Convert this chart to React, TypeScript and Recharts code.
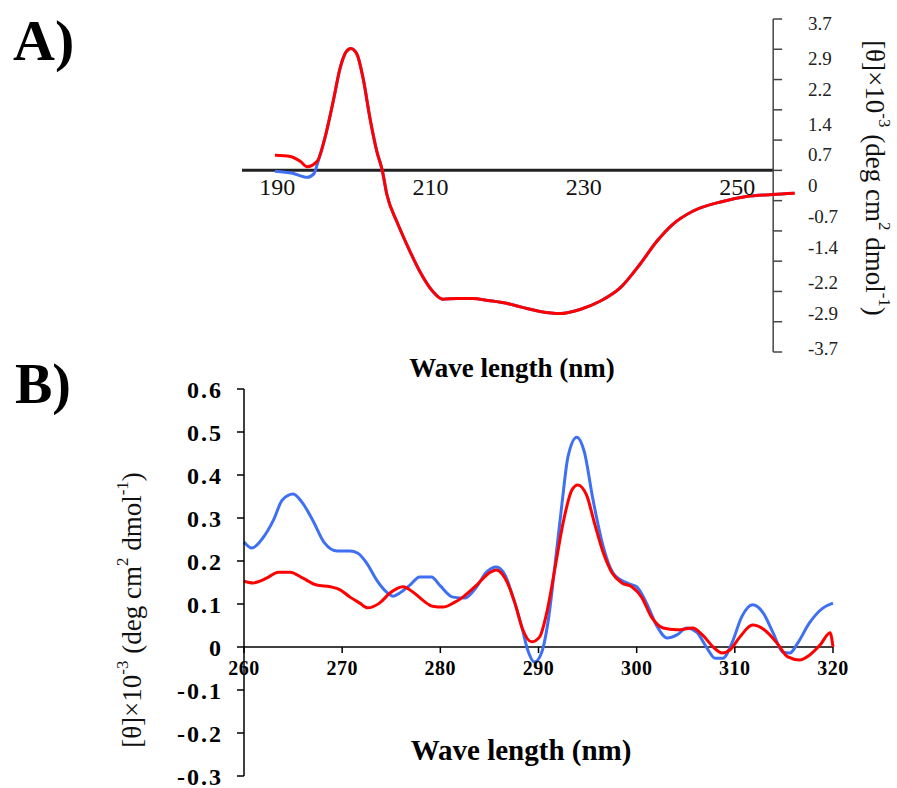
import React from 'react'
import { LineChart, Line, XAxis, YAxis, ReferenceLine } from 'recharts'

const SERIF = '"Liberation Serif", "Times New Roman", serif'
const BLUE = '#3f6ff2'
const RED = '#ff0000'

// ---- panel A (far UV) ----
const A_RED_HEAD_WL = [189.7, 191.7, 193.0, 193.9, 195.2]
const A_RED_HEAD = [0.37, 0.34, 0.22, 0.09, 0.22]
const A_BLUE_HEAD_WL = [189.7, 192.0, 193.9, 194.8, 195.3]
const A_BLUE_HEAD = [-0.02, -0.07, -0.17, -0.08, 0.2]
// both samples overlap from ~196 nm on
const A_TAIL_WL = [196.2, 197.3, 198.2, 199.0, 199.6, 200.4, 201.2, 202.1, 203.0, 203.7, 204.3, 205.6, 206.9, 208.6, 210.3, 211.6, 213.5, 215.5, 217.5, 219.9, 222.0, 224.3, 226.9, 229.5, 232.1, 234.7, 237.3, 239.5, 241.6, 244.2, 248.1, 251.2, 254.6, 257.5]
const A_TAIL = [0.78, 1.69, 2.5, 2.9, 2.98, 2.84, 2.25, 1.27, 0.46, 0, -0.59, -1.25, -1.81, -2.47, -2.96, -3.15, -3.13, -3.13, -3.18, -3.25, -3.35, -3.45, -3.5, -3.4, -3.2, -2.88, -2.3, -1.74, -1.32, -1.0, -0.76, -0.64, -0.59, -0.56]
const A_X_TICKS = [190, 210, 230, 250]
const A_Y_LABELS = [3.7, 2.9, 2.2, 1.4, 0.7, 0, -0.7, -1.4, -2.2, -2.9, -3.7]
const A_Y_MARKS = [3.7, 2.96, 2.22, 1.48, 0.74, 0, -0.74, -1.48, -2.22, -2.96, -3.7, -4.44]

// ---- panel B (near UV) ----
const B_BLUE_WL = [260, 260.8, 261.9, 263.0, 263.9, 265.0, 265.9, 267.0, 268.2, 269.5, 270.8, 271.6, 272.5, 273.5, 274.5, 275.2, 275.9, 276.9, 277.9, 279.1, 280.0, 281.3, 282.5, 283.7, 284.7, 285.7, 286.6, 287.4, 288.3, 288.9, 289.6, 290.3, 291.0, 291.7, 292.4, 293.0, 293.9, 294.7, 295.5, 296.6, 297.6, 299.0, 300.0, 301.0, 302.1, 303.1, 304.1, 305.1, 306.1, 307.1, 308.0, 308.8, 309.7, 310.7, 311.8, 312.9, 313.9, 314.9, 315.6, 316.4, 317.6, 319.0, 320]
const B_BLUE = [0.244, 0.23, 0.253, 0.295, 0.342, 0.356, 0.337, 0.295, 0.242, 0.223, 0.223, 0.218, 0.195, 0.156, 0.128, 0.118, 0.126, 0.144, 0.163, 0.163, 0.142, 0.116, 0.114, 0.14, 0.174, 0.186, 0.167, 0.116, 0.047, -0.007, -0.035, -0.014, 0.063, 0.195, 0.335, 0.442, 0.488, 0.451, 0.349, 0.233, 0.172, 0.149, 0.14, 0.102, 0.047, 0.021, 0.028, 0.044, 0.035, 0, -0.026, -0.026, 0.009, 0.07, 0.098, 0.079, 0.033, -0.012, -0.014, 0.009, 0.056, 0.091, 0.102]
const B_RED_WL = [260, 260.9, 262.3, 263.5, 264.7, 266.0, 267.4, 268.8, 269.8, 270.8, 271.8, 272.6, 273.8, 274.9, 276.2, 277.2, 278.2, 279.2, 280.3, 281.3, 282.3, 283.7, 285.1, 285.7, 286.8, 287.6, 288.4, 289.3, 290.1, 290.9, 291.7, 292.5, 293.4, 294.0, 294.9, 295.7, 296.6, 297.5, 298.5, 299.5, 300.5, 301.5, 302.7, 304.1, 305.7, 306.7, 307.8, 308.7, 309.5, 310.5, 311.8, 313.0, 314.3, 315.4, 316.6, 317.6, 318.7, 319.7, 320]
const B_RED = [0.153, 0.149, 0.16, 0.174, 0.174, 0.16, 0.144, 0.14, 0.133, 0.116, 0.102, 0.091, 0.102, 0.126, 0.14, 0.128, 0.109, 0.095, 0.093, 0.102, 0.116, 0.144, 0.174, 0.179, 0.151, 0.102, 0.04, 0.012, 0.023, 0.086, 0.186, 0.288, 0.365, 0.377, 0.353, 0.288, 0.219, 0.172, 0.149, 0.14, 0.116, 0.07, 0.044, 0.04, 0.044, 0.028, 0, -0.014, -0.007, 0.023, 0.051, 0.04, 0.009, -0.023, -0.03, -0.019, 0.005, 0.033, 0]
const B_X_TICKS = [260, 270, 280, 290, 300, 310, 320]
const B_Y_TICKS = [-0.3, -0.2, -0.1, 0, 0.1, 0.2, 0.3, 0.4, 0.5, 0.6]

const zip = (wl: number[], v: number[]) => wl.map((w, i) => ({ wl: w, v: v[i] }))

const aRed = zip([...A_RED_HEAD_WL, ...A_TAIL_WL], [...A_RED_HEAD, ...A_TAIL])
const aBlue = zip([...A_BLUE_HEAD_WL, ...A_TAIL_WL], [...A_BLUE_HEAD, ...A_TAIL])
const bRed = zip(B_RED_WL, B_RED)
const bBlue = zip(B_BLUE_WL, B_BLUE)

// layout (chart-local px)
const W = 897
const A_H = 390
const A_TOP = 19
const A_PLOT_H = 333
const A_YMIN = -4.44
const A_YMAX = 3.7
const A_ZERO = A_TOP + (A_PLOT_H * A_YMAX) / (A_YMAX - A_YMIN)
const A_AXIS_X = 254.7 // where the y axis crosses

const B_H = 418
const B_TOP = 19
const B_PLOT_H = 387
const B_ZERO = B_TOP + (B_PLOT_H * 0.6) / 0.9

// eslint-disable-next-line @typescript-eslint/no-explicit-any
const TickA = ({ x, payload }: any) => (
  <text x={x} y={A_ZERO + 25} textAnchor="middle" fontFamily={SERIF} fontSize={24} fill="#111">
    {payload.value}
  </text>
)

// eslint-disable-next-line @typescript-eslint/no-explicit-any
const TickB = ({ x, payload }: any) => (
  <g>
    <line x1={x} x2={x} y1={B_ZERO} y2={B_ZERO + 6} stroke="#000" strokeWidth={1.5} />
    <text x={x} y={B_ZERO + 28} textAnchor="middle" fontFamily={SERIF} fontSize={20} fontWeight="bold" letterSpacing={0.5} fill="#000">
      {payload.value}
    </text>
  </g>
)

// props named px/py so the Label clone does not overwrite them
const Title = ({ px, py, size, text }: { px: number; py: number; size: number; text: string }) => (
  <text x={px} y={py} textAnchor="middle" fontFamily={SERIF} fontSize={size} fontWeight="bold" fill="#000">
    {text}
  </text>
)

const ThetaTitle = ({ px, py, size, rot }: { px: number; py: number; size: number; rot: number }) => {
  const s = Math.round(size * 0.62)
  const up = Math.round(size * 0.38)
  return (
    <text
      x={px}
      y={py}
      transform={`rotate(${rot}, ${px}, ${py})`}
      textAnchor="middle"
      dominantBaseline="central"
      fontFamily={SERIF}
      fontSize={size}
      fill="#111"
    >
      [θ]×10
      <tspan dy={-up} fontSize={s}>-3</tspan>
      <tspan dy={up}> (deg cm</tspan>
      <tspan dy={-up} fontSize={s}>2</tspan>
      <tspan dy={up}> dmol</tspan>
      <tspan dy={-up} fontSize={s}>-1</tspan>
      <tspan dy={up}>)</tspan>
    </text>
  )
}

export default function App() {
  return (
    <div style={{ position: 'absolute', left: 0, top: 0, width: W, height: 788, background: '#fff' }}>
      <div style={{ position: 'absolute', left: 0, top: 0 }}>
        <LineChart width={W} height={A_H} margin={{ top: A_TOP, left: 242, right: 37, bottom: 18 }}>
          <XAxis
            type="number"
            dataKey="wl"
            domain={[185.4, 258.2]}
            ticks={A_X_TICKS}
            interval={0}
            axisLine={false}
            tickLine={false}
            height={20}
            tick={(p) => <TickA {...p} />}
            label={<Title px={512} py={377} size={27} text="Wave length (nm)" />}
          />
          <YAxis yAxisId="v" hide domain={[A_YMIN, A_YMAX]} />
          <YAxis
            yAxisId="lbl"
            orientation="right"
            domain={[-3.79, 3.79]}
            allowDataOverflow
            ticks={A_Y_LABELS}
            interval={0}
            axisLine={false}
            tickLine={false}
            width={60}
            tick={{ fontFamily: SERIF, fontSize: 19, fill: '#222' }}
            label={<ThetaTitle px={875} py={178} size={27} rot={90} />}
          />
          <ReferenceLine
            yAxisId="v"
            segment={[{ x: 185.4, y: 0 }, { x: A_AXIS_X, y: 0 }]}
            stroke="#222"
            strokeWidth={3}
            ifOverflow="visible"
          />
          <ReferenceLine
            yAxisId="v"
            segment={[{ x: A_AXIS_X, y: A_YMIN }, { x: A_AXIS_X, y: A_YMAX }]}
            stroke="#444"
            strokeWidth={1.5}
            ifOverflow="visible"
          />
          {A_Y_MARKS.map((m) => (
            <ReferenceLine
              key={m}
              yAxisId="v"
              segment={[{ x: A_AXIS_X, y: m }, { x: A_AXIS_X + 1.17, y: m }]}
              stroke="#444"
              strokeWidth={1.5}
              ifOverflow="visible"
            />
          ))}
          <Line data={aBlue} dataKey="v" yAxisId="v" type="monotone" stroke={BLUE} strokeWidth={3} dot={false} isAnimationActive={false} />
          <Line data={aRed} dataKey="v" yAxisId="v" type="monotone" stroke={RED} strokeWidth={3} dot={false} isAnimationActive={false} />
        </LineChart>
      </div>

      <div style={{ position: 'absolute', left: 0, top: 370 }}>
        <LineChart width={W} height={B_H} margin={{ top: B_TOP, left: 164, right: 64, bottom: 2 }}>
          <XAxis
            type="number"
            dataKey="wl"
            domain={[260, 320]}
            ticks={B_X_TICKS}
            interval={0}
            axisLine={false}
            tickLine={false}
            height={10}
            tick={(p) => <TickB {...p} />}
            label={<Title px={521} py={390} size={29} text="Wave length (nm)" />}
          />
          <YAxis
            domain={[-0.3, 0.6]}
            ticks={B_Y_TICKS}
            interval={0}
            width={80}
            axisLine={{ stroke: '#000', strokeWidth: 1.5 }}
            tickLine={{ stroke: '#000', strokeWidth: 1.5 }}
            tickSize={7}
            tickMargin={14}
            tickFormatter={(v: number) => (v === 0 ? '0' : v.toFixed(1))}
            tick={{ fontFamily: SERIF, fontSize: 24, fontWeight: 'bold', letterSpacing: 2, fill: '#000' }}
            label={<ThetaTitle px={132} py={240} size={27} rot={-90} />}
          />
          <ReferenceLine y={0} stroke="#000" strokeWidth={1.5} />
          <Line data={bBlue} dataKey="v" type="monotone" stroke={BLUE} strokeWidth={3} dot={false} isAnimationActive={false} />
          <Line data={bRed} dataKey="v" type="monotone" stroke={RED} strokeWidth={3} dot={false} isAnimationActive={false} />
        </LineChart>
      </div>

      <svg width={W} height={788} style={{ position: 'absolute', left: 0, top: 0, pointerEvents: 'none' }}>
        <text x={13} y={60} fontFamily={SERIF} fontSize={58} fontWeight="bold" fill="#000">A)</text>
        <text x={15} y={403} fontFamily={SERIF} fontSize={56} fontWeight="bold" fill="#000">B)</text>
      </svg>
    </div>
  )
}
